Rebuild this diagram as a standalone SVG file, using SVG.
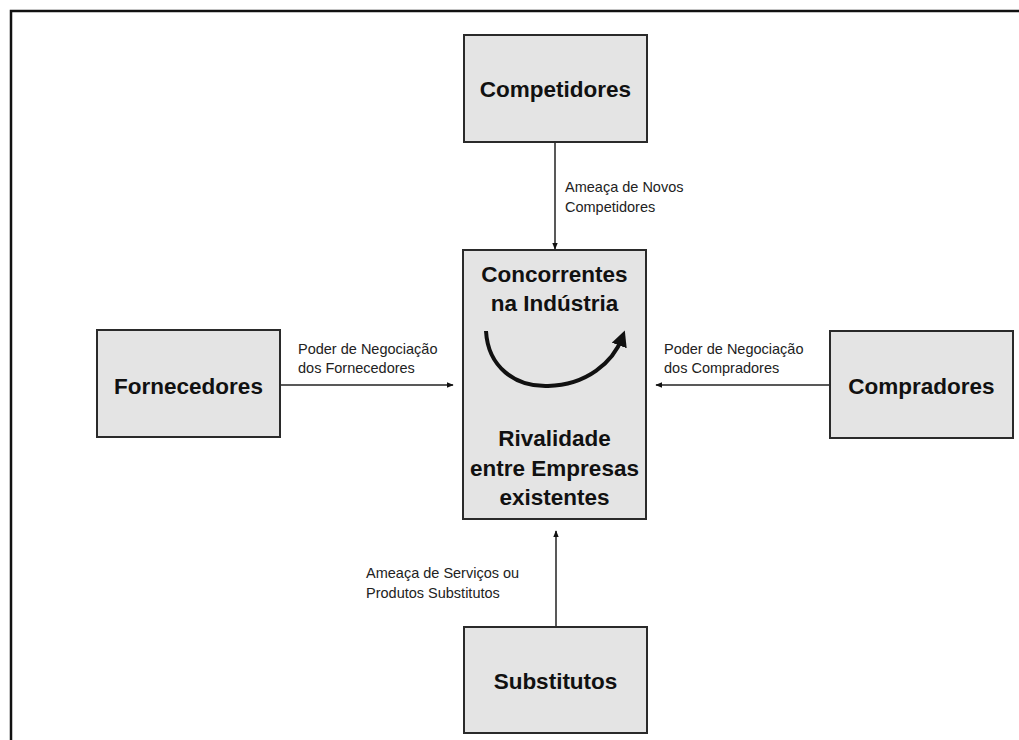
<svg xmlns="http://www.w3.org/2000/svg" width="1019" height="740" viewBox="0 0 1019 740">
<style>
.box{fill:#e4e4e4;stroke:#2a2a2a;stroke-width:2}
.big{font-family:"Liberation Sans",Arial,sans-serif;font-weight:bold;font-size:22.5px;fill:#111;text-anchor:middle}
.small{font-family:"Liberation Sans",Arial,sans-serif;font-size:14.5px;fill:#222}
.conn{stroke:#222;stroke-width:1.5;fill:none}
</style>
<defs>
<marker id="ah" viewBox="0 0 10 10" refX="9" refY="5" markerWidth="7" markerHeight="7" orient="auto" markerUnits="userSpaceOnUse">
<path d="M0,1 L10,5 L0,9 z" fill="#111"/>
</marker>
<marker id="ah2" viewBox="0 0 10 10" refX="5" refY="5" markerWidth="4" markerHeight="4" orient="auto">
<path d="M0,0 L10,5 L0,10 z" fill="#111"/>
</marker>
</defs>
<rect width="1019" height="740" fill="#fff"/>
<path d="M11,740 V11 H1019" fill="none" stroke="#111" stroke-width="2.5"/>
<g id="connectors">
<line class="conn" x1="555" y1="142" x2="555" y2="249" marker-end="url(#ah)"/>
<line class="conn" x1="280" y1="385" x2="453" y2="385" marker-end="url(#ah)"/>
<line class="conn" x1="830" y1="385" x2="656" y2="385" marker-end="url(#ah)"/>
<line class="conn" x1="556" y1="627" x2="556" y2="531" marker-end="url(#ah)"/>
<text class="small" x="565" y="192">Ameaça de Novos</text>
<text class="small" x="565" y="212">Competidores</text>
<text class="small" x="298" y="354">Poder de Negociação</text>
<text class="small" x="298" y="373">dos Fornecedores</text>
<text class="small" x="664" y="354">Poder de Negociação</text>
<text class="small" x="664" y="373">dos Compradores</text>
<text class="small" x="366" y="578">Ameaça de Serviços ou</text>
<text class="small" x="366" y="598">Produtos Substitutos</text>
</g>
<g id="competidores">
<rect class="box" x="464" y="35" width="183" height="107"/>
<text class="big" x="555.5" y="97">Competidores</text>
</g>
<g id="concorrentes">
<rect class="box" x="463" y="250" width="183" height="269"/>
<text class="big" x="554.5" y="282">Concorrentes</text>
<text class="big" x="554.5" y="311">na Indústria</text>
<path d="M486,331 C488,367 515,387 548,386 C587,385 613,362 622,338" fill="none" stroke="#111" stroke-width="4" marker-end="url(#ah2)"/>
<text class="big" x="554.5" y="446">Rivalidade</text>
<text class="big" x="554.5" y="476">entre Empresas</text>
<text class="big" x="554.5" y="505">existentes</text>
</g>
<g id="fornecedores">
<rect class="box" x="97" y="330" width="183" height="107"/>
<text class="big" x="188.5" y="394">Fornecedores</text>
</g>
<g id="compradores">
<rect class="box" x="830" y="331" width="183" height="107"/>
<text class="big" x="921.5" y="394">Compradores</text>
</g>
<g id="substitutos">
<rect class="box" x="464" y="627" width="183" height="106"/>
<text class="big" x="555.5" y="689">Substitutos</text>
</g>
</svg>
